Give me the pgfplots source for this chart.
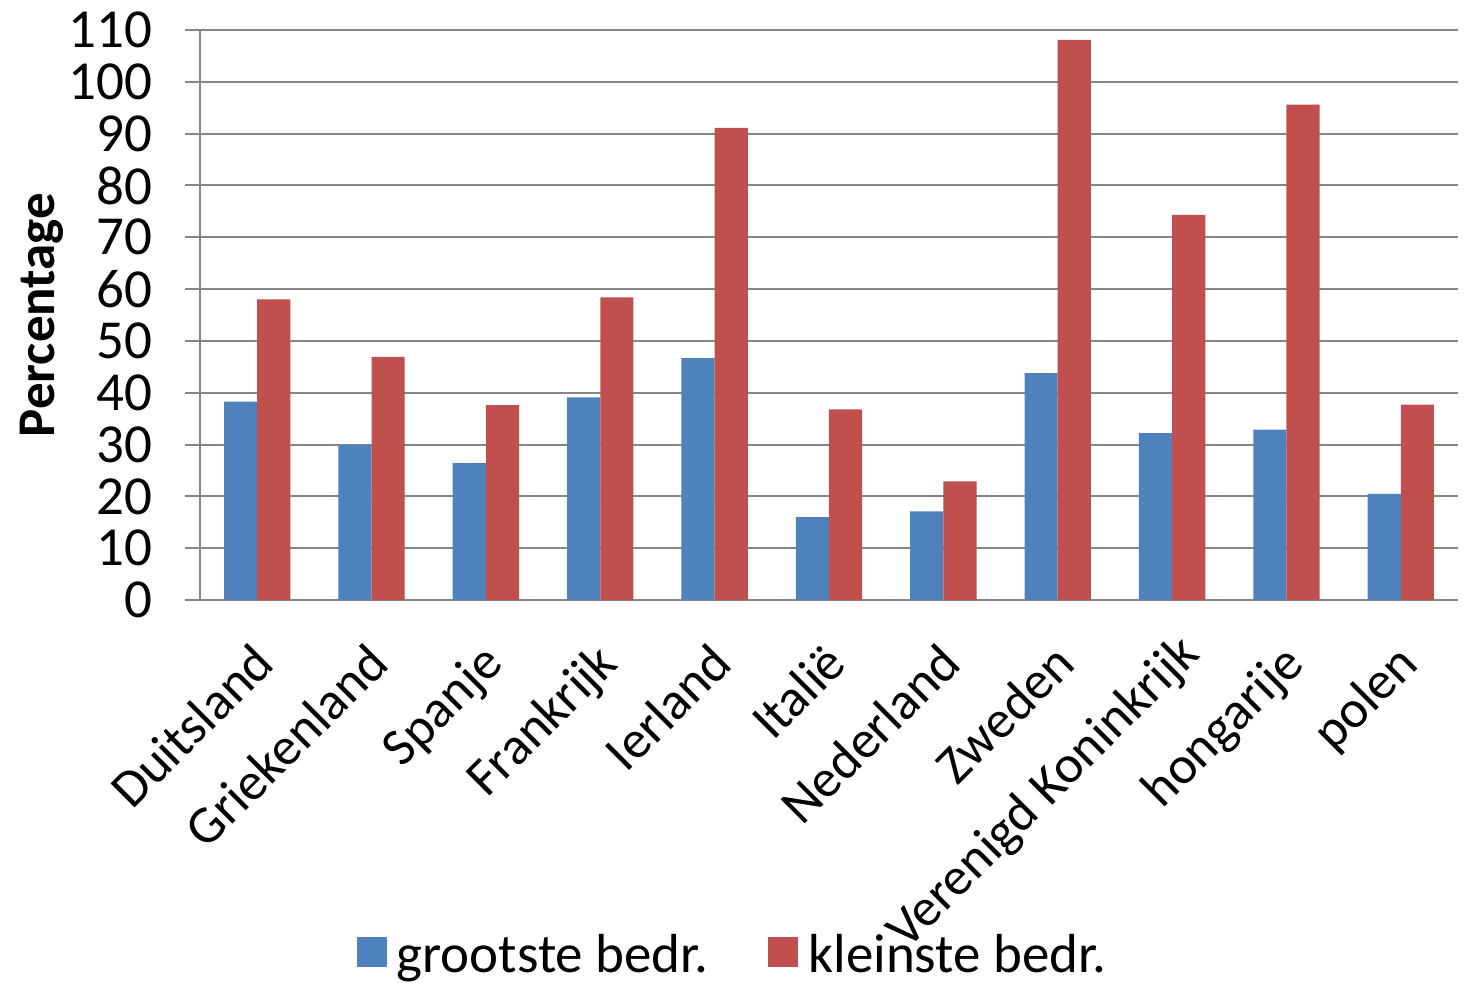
\documentclass[border=0pt]{standalone}
\usepackage{fontspec}
\setmainfont{Carlito}
\usepackage{pgfplots}
\pgfplotsset{compat=1.18}
\definecolor{cblue}{HTML}{4F81BD}
\definecolor{cred}{HTML}{C0504D}
\definecolor{cgrid}{HTML}{868686}
\begin{document}
\begin{tikzpicture}
\begin{axis}[
  scale only axis,
  width=629pt, height=285pt,
  at={(0,0)}, anchor=south west,
  ybar=0pt, bar width=0.29,
  xmin=-0.5, xmax=10.5,
  ymin=0, ymax=110,
  ytick={0,10,...,110},
  xtick={0,...,10},
  xticklabels={Duitsland,Griekenland,Spanje,Frankrijk,Ierland,Italië,Nederland,Zweden,{Verenigd Koninkrijk\hspace*{-7pt}},hongarije,polen},
  x tick label style={rotate=45, anchor=north east, inner sep=0pt, xshift=-11.1pt, yshift=-6.4pt, font=\fontsize{26.5}{32}\selectfont},
  x tick style={draw=none},
  axis x line=bottom, axis y line=left,
  axis line style={-, draw=cgrid, line width=1pt},
  y tick style={draw=cgrid, line width=1pt},
  tick align=outside, major tick length=7.5pt,
  ymajorgrids, grid style={draw=cgrid, line width=1pt},
  /pgf/number format/assume math mode=true,
  y tick label style={font=\fontsize{27.5}{32}\selectfont},
  yticklabel style={inner sep=0pt, xshift=-16pt},
  ylabel={\bfseries Percentage},
  ylabel style={font=\fontsize{26.5}{32}\selectfont, inner sep=0pt, yshift=2.5pt},
  legend style={draw=none, fill=none, at={(rel axis cs:0.424,-0.623)}, anchor=center,
    font=\fontsize{27.5}{32}\selectfont, legend columns=2,
    /tikz/every even column/.append style={column sep=28pt}},
  legend image code/.code={\fill[#1] (0pt,-6pt) rectangle (15pt,9pt); \path (18pt,0pt);},
]
\addplot[fill=cblue, draw=none] coordinates {(0,38.3) (1,29.9) (2,26.4) (3,39.1) (4,46.7) (5,16.0) (6,17.1) (7,43.8) (8,32.2) (9,32.9) (10,20.5)};
\addlegendentry{grootste bedr.}
\addplot[fill=cred, draw=none] coordinates {(0,58.0) (1,46.9) (2,37.6) (3,58.4) (4,91.1) (5,36.8) (6,22.9) (7,108.1) (8,74.3) (9,95.6) (10,37.7)};
\addlegendentry{kleinste bedr.}
\end{axis}
\pgfresetboundingbox
\path[use as bounding box] (-100pt,-191pt) rectangle (632pt,300pt);
\end{tikzpicture}
\end{document}
